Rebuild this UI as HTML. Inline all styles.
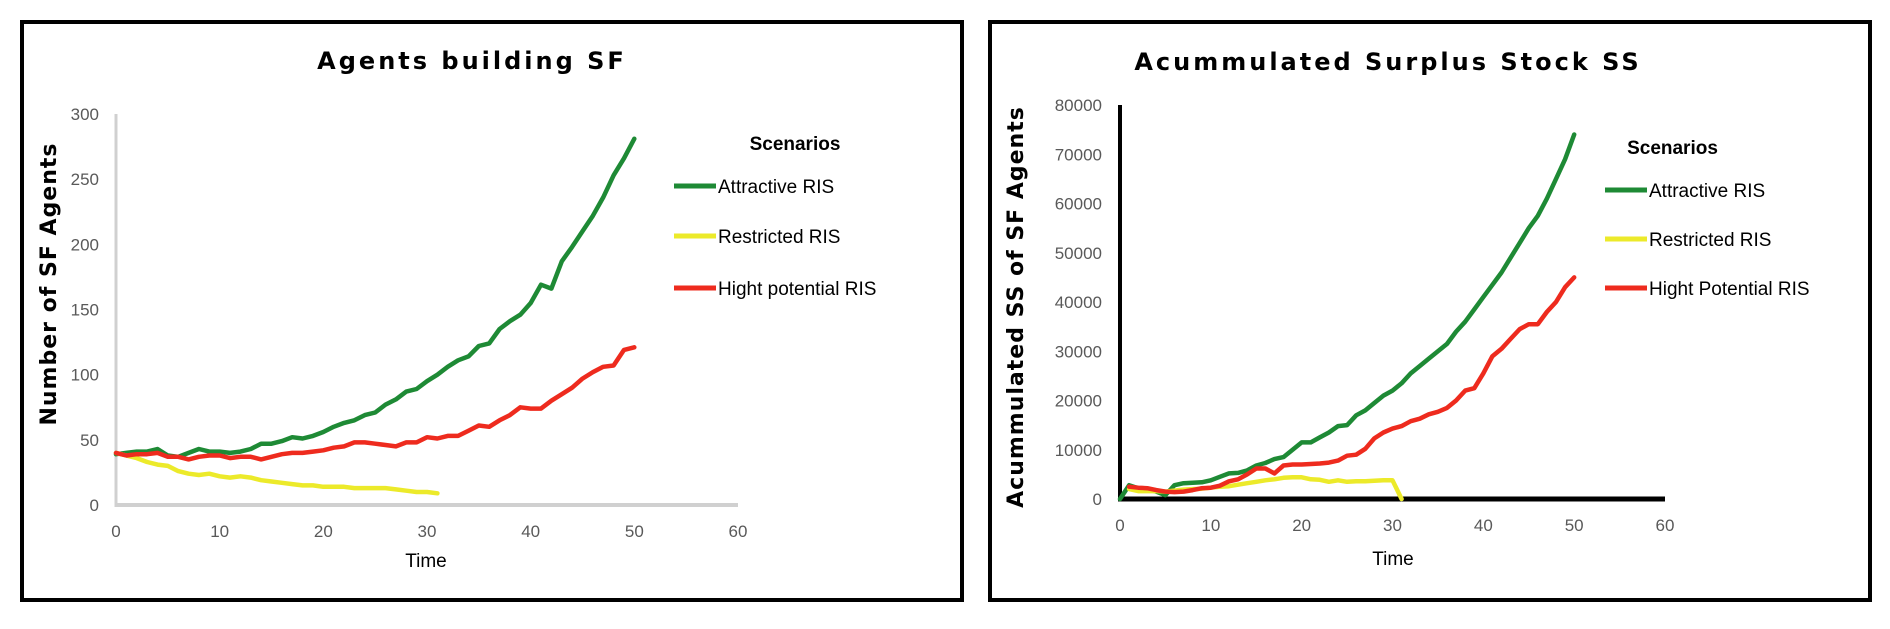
<!DOCTYPE html>
<html><head><meta charset="utf-8"><style>
html,body{margin:0;padding:0;background:#fff;}
svg{display:block;}
.tick{font-family:"Liberation Sans",sans-serif;font-size:17px;fill:#595959;}
.ttl{font-family:"DejaVu Sans","Liberation Sans",sans-serif;font-weight:bold;fill:#000;}
.leg{font-family:"Liberation Sans",sans-serif;font-size:19px;fill:#000;}
</style></head><body>
<svg id="svg" width="1890" height="629" viewBox="0 0 1890 629" xmlns="http://www.w3.org/2000/svg">
<rect x="22" y="22" width="940" height="578" fill="none" stroke="#000" stroke-width="4"/>
<rect x="990" y="22" width="880" height="578" fill="none" stroke="#000" stroke-width="4"/>
<g id="left"></g>
<g id="right"></g>
</svg>
<script>
const xTicks=[0,10,20,30,40,50,60];
const leftYTicks=[0,50,100,150,200,250,300];
const leftGreen=[39,40,41,41,43,38,37,40,43,41,41,40,41,43,47,47,49,52,51,53,56,60,63,65,69,71,77,81,87,89,95,100,106,111,114,122,124,135,141,146,155,169,166,187,198,210,222,236,253,266,281];
const leftRed=[40,38,39,39,40,37,37,35,37,38,38,36,37,37,35,37,39,40,40,41,42,44,45,48,48,47,46,45,48,48,52,51,53,53,57,61,60,65,69,75,74,74,80,85,90,97,102,106,107,119,121];
const leftYellow=[40,38,36,33,31,30,26,24,23,24,22,21,22,21,19,18,17,16,15,15,14,14,14,13,13,13,13,12,11,10,10,9];
const rightYTicks=[0,10000,20000,30000,40000,50000,60000,70000,80000];
const rightGreen=[0,2800,2200,2000,1500,800,2800,3200,3300,3400,3800,4500,5200,5300,5800,6800,7300,8100,8500,10000,11500,11500,12500,13500,14800,15000,17000,18000,19500,21000,22000,23500,25500,27000,28500,30000,31500,34000,36000,38500,41000,43500,46000,49000,52000,55000,57500,61000,65000,69000,74000];
const rightRedX=[1,2,3,4,5,6,7,8,9,10,11,12,13,14,15,16,17,18,19,20,21,22,23,24,25,26,27,28,29,30,31,32,33,34,35,36,37,38,39,40,41,42,43,44,45,46,47,48,49,50];
const rightRed=[2500,2300,2200,1800,1500,1400,1500,1800,2200,2300,2700,3600,4000,5000,6200,6200,5200,6800,7000,7000,7100,7200,7400,7800,8800,9000,10200,12300,13500,14300,14800,15800,16300,17200,17700,18500,20000,22000,22500,25500,29000,30500,32500,34500,35500,35500,38000,40000,43000,45000];
const rightYellowX=[1,2,3,4,5,6,7,8,9,10,11,12,13,14,15,16,17,18,19,20,21,22,23,24,25,26,27,28,29,30,31];
const rightYellow=[2000,1600,1600,1600,1500,1700,1900,2000,2100,2300,2500,2600,2900,3200,3500,3800,4000,4300,4400,4400,4000,3900,3500,3800,3500,3600,3600,3700,3800,3800,0];
const seriesNames=["Attractive RIS","Restricted RIS"];
const leftRedName="Hight potential RIS", rightRedName="Hight Potential RIS";
const COL={g:"#1e8a35",y:"#ecea2a",r:"#ee2b1e"};
const NS="http://www.w3.org/2000/svg";
function mk(p,t,a,txt){const e=document.createElementNS(NS,t);for(const k in a)e.setAttribute(k,a[k]);if(txt!=null)e.textContent=txt;p.appendChild(e);return e;}
function chart(g,o){
  const sx=v=>o.x0+(v-0)/60*(o.x1-o.x0);
  const sy=v=>o.y0-(v/o.ymax)*(o.y0-o.y1);
  let t=mk(g,"text",{x:o.tx,y:o.ty,"text-anchor":"middle",class:"ttl","font-size":o.tfs,"letter-spacing":o.tls},o.title);
  
  
  let ax=mk(g,"line",{x1:sx(0),y1:sy(0),x2:sx(0),y2:o.y1,stroke:o.axc,"stroke-width":o.axw});
  
  
  let ax2=mk(g,"line",{x1:sx(0)-o.axw/2,y1:sy(0),x2:sx(60),y2:sy(0),stroke:o.axc,"stroke-width":o.axw+1});
  
  
  o.yt.forEach(v=>{let e=mk(g,"text",{x:o.ylx,y:sy(v)+6,"text-anchor":"end",class:"tick"},String(v));
    
    });
  xTicks.forEach(v=>{let e=mk(g,"text",{x:sx(v),y:o.xly,"text-anchor":"middle",class:"tick"},String(v));
    
    });
  let xt=mk(g,"text",{x:o.timex,y:o.timey,"text-anchor":"middle",class:"leg","font-size":o.timefs},"Time");
  
  
  let yt=mk(g,"text",{x:0,y:0,"text-anchor":"middle",class:"ttl","font-size":o.ytfs,"letter-spacing":"1",transform:`translate(${o.ytx},${o.yty}) rotate(-90)`,"xml:space":"preserve"},o.ytitle);
  
  
  o.series.forEach(s=>{
    const pts=s.v.map((v,i)=>sx(s.x?s.x[i]:i).toFixed(1)+","+sy(v).toFixed(1)).join(" ");
    let p=mk(g,"polyline",{points:pts,fill:"none",stroke:s.c,"stroke-width":4.5,"stroke-linejoin":"round","stroke-linecap":"round"});
    
    
  });
  let sc=mk(g,"text",{x:o.lgx+(o.lgx2-o.lgx)/2+ (o.scx||0),y:o.ly[0]-36,"text-anchor":"middle",class:"leg","font-weight":"bold","font-size":19},"Scenarios");
  
  
  o.legend.forEach((l,i)=>{
    let ln=mk(g,"line",{x1:o.lgx,y1:o.ly[i],x2:o.lgx+42,y2:o.ly[i],stroke:l.c,"stroke-width":5});
    
    
    let tx=mk(g,"text",{x:o.lgx+44,y:o.ly[i]+7,class:"leg"},l.t);
    
    
  });
}
chart(document.getElementById('left'),{x0:116,x1:738,y0:505,y1:114,ymax:300,yt:leftYTicks,ylx:99,xly:537,
  axc:"#d0d0d0",axw:3,title:"Agents building  SF",tx:472,ty:69,tfs:24,tls:3,
  timex:426,timey:567,timefs:21,ytitle:"Number of SF Agents",ytfs:22,ytx:56,yty:284,
  series:[{v:leftGreen,c:COL.g,n:"attractive-ris-line"},{v:leftYellow,c:COL.y,n:"restricted-ris-line"},{v:leftRed,c:COL.r,n:"high-potential-ris-line"}],
  lgx:674,lgx2:848,scx:34,ly:[186,236,288],legend:[{c:COL.g,t:seriesNames[0]},{c:COL.y,t:seriesNames[1]},{c:COL.r,t:leftRedName}]});
chart(document.getElementById('right'),{x0:1120,x1:1665,y0:499,y1:105,ymax:80000,yt:rightYTicks,ylx:1102,xly:531,
  axc:"#000",axw:4,title:"Acummulated Surplus Stock SS",tx:1388,ty:70,tfs:24,tls:3,
  timex:1393,timey:565,timefs:22,ytitle:"Acummulated   SS of SF Agents",ytfs:22,ytx:1023,yty:307,
  series:[{v:rightGreen,c:COL.g,n:"attractive-ris-line"},{v:rightYellow,x:rightYellowX,c:COL.y,n:"restricted-ris-line"},{v:rightRed,x:rightRedX,c:COL.r,n:"high-potential-ris-line"}],
  lgx:1605,lgx2:1740,scx:0,ly:[190,239,288],legend:[{c:COL.g,t:seriesNames[0]},{c:COL.y,t:seriesNames[1]},{c:COL.r,t:rightRedName}]});
</script>
</body></html>
